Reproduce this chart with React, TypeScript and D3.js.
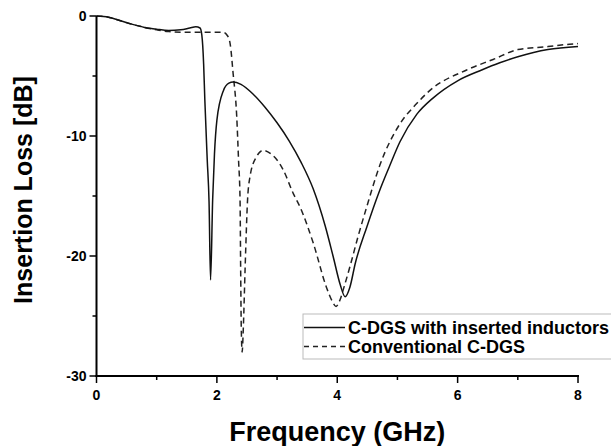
import React from "react";
import * as d3 from "d3";

const width = 611;
const height = 446;
const plot = { left: 96.5, right: 578, top: 16, bottom: 376 };

// C-DGS with inserted inductors (solid)
const freqInd = [0, 0.2, 0.4, 0.6, 0.8, 1.0, 1.2, 1.4, 1.55, 1.65, 1.72, 1.75, 1.78, 1.8, 1.84, 1.87, 1.895, 1.93, 1.96, 2.0, 2.11, 2.2, 2.27, 2.4, 2.6, 2.8, 3.0, 3.2, 3.4, 3.6, 3.8, 3.93, 4.05, 4.13, 4.21, 4.3, 4.49, 4.7, 4.87, 5.04, 5.32, 5.6, 6.0, 6.4, 6.7, 7.0, 7.5, 8.0];
const lossInd = [0, -0.1, -0.4, -0.7, -0.95, -1.1, -1.2, -1.15, -1.0, -0.9, -1.0, -1.6, -4, -7, -12, -15.5, -22, -15.3, -11.5, -8.7, -6.2, -5.6, -5.5, -5.7, -6.5, -7.6, -8.9, -10.4, -12.2, -14.4, -17.5, -20.0, -22.4, -23.4, -22.6, -20.6, -17.6, -14.6, -12.5, -10.5, -8.2, -6.8, -5.4, -4.5, -3.9, -3.4, -2.8, -2.55];

// Conventional C-DGS (dashed)
const freqConv = [0, 0.2, 0.4, 0.6, 0.8, 1.0, 1.2, 1.5, 1.8, 2.1, 2.17, 2.22, 2.27, 2.33, 2.36, 2.385, 2.395, 2.405, 2.42, 2.44, 2.47, 2.51, 2.55, 2.65, 2.77, 2.9, 3.0, 3.1, 3.27, 3.38, 3.6, 3.82, 3.92, 3.98, 4.05, 4.1, 4.21, 4.35, 4.49, 4.71, 5.04, 5.32, 5.54, 6.15, 6.6, 7.0, 7.5, 7.86, 8.0];
const lossConv = [0, -0.1, -0.4, -0.7, -0.95, -1.15, -1.3, -1.35, -1.35, -1.35, -1.6, -2.3, -4.8, -8.4, -12, -15.3, -21, -25.9, -28, -25.9, -20.9, -15.3, -13.4, -11.8, -11.2, -11.5, -12.0, -12.8, -14.8, -15.9, -18.9, -22.6, -23.8, -24.2, -23.6, -22.8, -20.9, -18.3, -15.9, -12.4, -9.0, -7.3, -6.2, -4.5, -3.6, -2.8, -2.55, -2.35, -2.3];

const xTicks = [0, 2, 4, 6, 8];
const xMinor = [1, 3, 5, 7];
const yTicks = [0, -10, -20, -30];
const yMinor = [-5, -15, -25];
const legendLabels = ["C-DGS with inserted inductors", "Conventional C-DGS"];

const font = "'Liberation Sans', Arial, sans-serif";

export default function App() {
  const xScale = d3.scaleLinear().domain([0, 8]).range([plot.left, plot.right]);
  const yScale = d3.scaleLinear().domain([-30, 0]).range([plot.bottom, plot.top]);

  const line = d3
    .line<[number, number]>()
    .x((d) => xScale(d[0]))
    .y((d) => yScale(d[1]))
    .curve(d3.curveMonotoneX);

  const indPath = line(freqInd.map((f, i) => [f, lossInd[i]]));
  const convPath = line(freqConv.map((f, i) => [f, lossConv[i]]));

  return (
    <svg
      width={width}
      height={height}
      style={{ position: "absolute", left: 0, top: 0, background: "#fff", fontFamily: font }}
    >
      {/* curves */}
      <path d={convPath || ""} fill="none" stroke="#222" strokeWidth={1.5} strokeDasharray="6,4" />
      <path d={indPath || ""} fill="none" stroke="#111" strokeWidth={1.5} />

      {/* axes */}
      <line x1={plot.left} x2={plot.left} y1={plot.top} y2={plot.bottom + 1} stroke="#000" strokeWidth={2} />
      <line x1={plot.left - 1} x2={plot.right + 1} y1={plot.bottom} y2={plot.bottom} stroke="#000" strokeWidth={2} />

      {yTicks.map((t) => (
        <g key={"y" + t}>
          <line x1={plot.left - 7} x2={plot.left} y1={yScale(t)} y2={yScale(t)} stroke="#000" strokeWidth={1.5} />
          <text x={plot.left - 10} y={yScale(t)} dy="0.36em" textAnchor="end" fontSize={14} fontWeight="bold">
            {t}
          </text>
        </g>
      ))}
      {yMinor.map((t) => (
        <line key={"ym" + t} x1={plot.left - 4} x2={plot.left} y1={yScale(t)} y2={yScale(t)} stroke="#000" strokeWidth={1.5} />
      ))}

      {xTicks.map((t) => (
        <g key={"x" + t}>
          <line x1={xScale(t)} x2={xScale(t)} y1={plot.bottom} y2={plot.bottom + 7} stroke="#000" strokeWidth={1.5} />
          <text x={xScale(t)} y={400} textAnchor="middle" fontSize={14} fontWeight="bold">
            {t}
          </text>
        </g>
      ))}
      {xMinor.map((t) => (
        <line key={"xm" + t} x1={xScale(t)} x2={xScale(t)} y1={plot.bottom} y2={plot.bottom + 4} stroke="#000" strokeWidth={1.5} />
      ))}

      {/* axis titles */}
      <text
        x={(plot.left + plot.right) / 2}
        y={441}
        textAnchor="middle"
        fontSize={27}
        fontWeight="bold"
      >
        Frequency (GHz)
      </text>
      <text
        transform={`translate(32, ${(plot.top + plot.bottom) / 2 - 6}) rotate(-90)`}
        textAnchor="middle"
        fontSize={25}
        fontWeight="bold"
      >
        Insertion Loss [dB]
      </text>

      {/* legend */}
      <rect x={303} y={314} width={330} height={45} fill="#fff" stroke="#bbb" strokeWidth={1} />
      <line x1={304} x2={345} y1={327.5} y2={327.5} stroke="#111" strokeWidth={1.5} />
      <line x1={304} x2={345} y1={346.5} y2={346.5} stroke="#222" strokeWidth={1.5} strokeDasharray="5,4" />
      <text x={348} y={333.5} fontSize={18} fontWeight="bold">
        {legendLabels[0]}
      </text>
      <text x={348} y={352.5} fontSize={18} fontWeight="bold">
        {legendLabels[1]}
      </text>
    </svg>
  );
}
